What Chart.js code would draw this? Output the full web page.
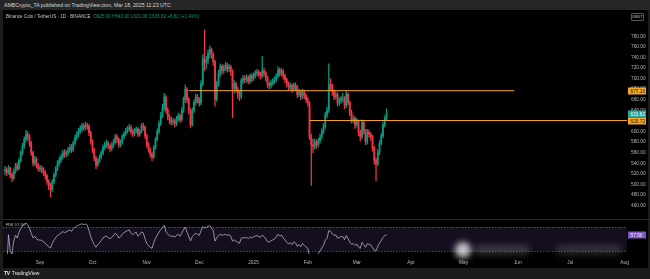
<!DOCTYPE html>
<html><head><meta charset="utf-8">
<script src="https://cdn.jsdelivr.net/npm/chart.js@4.4.1/dist/chart.umd.min.js"></script>
<style>
html,body{margin:0;padding:0;background:#1c1c1c;width:650px;height:279px;overflow:hidden;font-family:"Liberation Sans",Arial,sans-serif}
#hdr{position:absolute;left:0;top:0;width:650px;height:10px;background:#262626;color:#d6d6d6;font-size:5.2px;line-height:10px;padding-left:4px;box-sizing:border-box;white-space:nowrap}
#frame{position:absolute;left:3px;top:10px;width:645px;height:258px;background:#000}
#c1wrap{position:absolute;left:0;top:10px;width:650px;height:209px}
#c2wrap{position:absolute;left:0;top:219px;width:650px;height:49px}
#legend{position:absolute;left:6px;top:13.5px;font-size:4.6px;color:#c4c4c4;white-space:nowrap}
#legend .v{color:#089981}
#usdt{position:absolute;left:631px;top:13px;width:11px;height:6px;border:0.6px solid #555;border-radius:1px;color:#cfcfcf;font-size:3.8px;line-height:6px;text-align:center}
#footer{position:absolute;left:4px;top:269px;font-size:5px;line-height:9px;color:#e8e8e8;white-space:nowrap}
#footer b{font-weight:900;letter-spacing:-0.3px;margin-right:2px}
#rsilbl{position:absolute;left:6px;top:222px;font-size:4.4px;color:#c8c8c8;white-space:nowrap}
#rsilbl .v{color:#b9a3e0}
.blob{position:absolute;border-radius:50%;filter:blur(3px)}
</style></head>
<body>
<div id="hdr">AMBCrypto_TA published on TradingView.com, Mar 18, 2025 11:23 UTC</div>
<div id="frame"></div>
<div id="c1wrap"><canvas id="c1" width="650" height="209"></canvas></div>
<div id="c2wrap"><canvas id="c2" width="650" height="49"></canvas></div>
<div id="legend">Binance Coin / TetherUS · 1D · BINANCE&nbsp; <span class="v" id="ohlc"></span></div>
<div id="usdt">USDT</div>
<div id="rsilbl">RSI <span class="v" id="rsival"></span></div>
<div class="blob" style="left:455px;top:242px;width:16px;height:16px;background:rgba(255,255,255,0.75)"></div>
<div class="blob" style="left:474px;top:245px;width:56px;height:10px;border-radius:5px;background:rgba(200,200,200,0.22)"></div>
<div class="blob" style="left:556px;top:245px;width:66px;height:10px;border-radius:5px;background:rgba(200,200,200,0.18)"></div>
<div id="footer"><b>TV</b>TradingView</div>
<script>
// ---- data (daily candles, day 0 = 2024-08-12) ----
const firstOpen = 525;
const closes = [528,522,530,518,512,525,535,530,545,560,572,585,595,590,578,560,540,548,536,530,
530,528,522,516,505,498,490,505,518,530,540,546,552,560,557,560,565,570,566,578,
588,595,600,605,610,608,612,610,598,581,565,550,537,545,552,560,570,575,578,572,
568,575,580,590,585,575,580,590,596,601,605,608,600,596,602,605,595,600,610,608,
592,575,566,557,552,570,585,600,615,630,645,665,640,628,622,618,620,615,625,630,
622,640,660,680,660,640,613,640,655,665,660,654,690,737,730,735,748,755,745,732,
661,690,710,723,715,720,725,718,722,714,681,690,680,672,666,696,700,698,702,695,
705,700,706,710,712,708,705,715,710,701,689,687,692,695,698,705,716,710,714,705,
698,690,684,687,680,688,684,670,675,666,675,668,660,654,590,575,572,580,575,582,
590,600,610,631,640,689,687,675,666,670,654,658,662,663,649,670,655,636,622,625,
613,619,599,590,617,601,581,599,595,590,569,546,539,561,578,592,613,625,633.82];
const highs = [534,532,536,533,522,529,540,541,549,564,578,590,602,600,594,582,563,553,551,540,
536,535,532,526,519,509,502,509,522,534,545,551,557,565,566,564,570,575,576,582,
593,600,606,611,616,615,618,616,613,601,585,568,553,549,556,564,575,580,584,581,
576,579,585,595,594,588,584,594,600,606,610,614,611,604,606,609,607,604,615,616,
611,595,579,569,561,574,589,605,620,636,652,672,668,645,632,627,625,624,629,635,
633,645,665,688,683,664,643,645,660,671,670,664,696,745,792,742,754,762,758,749,
735,695,716,728,726,726,731,729,727,725,717,696,693,684,676,700,706,705,707,705,
709,709,711,715,718,716,712,742,720,713,704,694,697,700,703,709,722,720,719,717,
708,701,694,692,690,692,692,687,680,678,680,678,671,664,656,595,585,586,584,587,
595,605,615,636,646,728,700,690,679,676,673,664,667,672,666,676,673,658,640,630,
628,625,622,602,622,620,604,604,603,598,593,572,550,566,583,597,618,630,643];
const lows = [518,516,519,513,505,509,521,526,528,542,556,568,580,584,572,555,535,536,531,525,
524,522,517,510,500,490,476,486,501,514,526,535,541,548,551,552,555,561,560,562,
574,584,590,596,600,602,603,604,592,576,560,545,530,533,541,548,556,565,570,567,
562,564,570,576,579,570,571,576,586,592,597,600,595,590,592,598,590,591,597,602,
587,570,561,551,545,549,566,582,596,611,626,640,634,622,615,612,613,609,611,620,
617,619,636,655,654,633,607,610,636,650,654,648,650,686,715,718,728,740,738,725,
648,657,686,704,708,710,715,712,713,706,626,672,674,662,658,662,690,692,693,690,
691,694,696,701,705,703,699,701,704,695,683,680,682,687,690,694,701,704,705,699,
692,684,678,679,674,676,678,664,666,660,662,662,655,648,585,498,560,566,568,571,
578,586,596,606,626,636,678,668,660,661,648,649,653,656,643,645,650,630,616,616,
606,608,592,582,586,595,575,576,589,583,563,538,507,535,556,574,588,608,621];
const dayIndex = closes.map((_, i) => i);
const levelPrices = [677.10, 620.72];
const levelStartDay = [105, 174];
const levelEndDay = [291, 355.4];
const tickDays = [20, 50, 81, 111, 142, 173, 201, 232, 262, 293, 323, 354];
const tickLabels = ['Sep', 'Oct', 'Nov', 'Dec', '2025', 'Feb', 'Mar', 'Apr', 'May', 'Jun', 'Jul', 'Aug'];
const priceTicks = [460, 480, 500, 520, 540, 560, 580, 600, 620, 640, 660, 680, 700, 720, 740, 760, 780];
const rsiPeriod = 14;

// ---- derived ----
const opens = closes.map((c, i) => i === 0 ? firstOpen : closes[i - 1]);
const rsi = [];
{ let ag = 0, al = 0;
  for (let i = 0; i < closes.length; i++) {
    if (i === 0) { rsi.push(null); continue; }
    const ch = closes[i] - closes[i - 1];
    const g = Math.max(ch, 0), l = Math.max(-ch, 0);
    const n = Math.min(i, rsiPeriod);
    ag = (ag * (n - 1) + g) / n; al = (al * (n - 1) + l) / n;
    rsi.push(al === 0 ? 100 : 100 - 100 / (1 + ag / al));
  }
}
const last = closes.length - 1;
const chg = closes[last] - opens[last];
document.getElementById('ohlc').textContent =
  'O' + opens[last].toFixed(2) + ' H' + highs[last].toFixed(2) + ' L' + lows[last].toFixed(2) +
  ' C' + closes[last].toFixed(2) + ' ' + (chg >= 0 ? '+' : '') + chg.toFixed(2) +
  ' (' + (chg >= 0 ? '+' : '') + (chg / opens[last] * 100).toFixed(2) + '%)';
document.getElementById('rsival').textContent = rsi[last].toFixed(2);

const UP = '#089981', DOWN = '#f23645', ORANGE = '#f5a623';
const XMIN = -1.14, XMAX = 355.4;
const FONT = '"Liberation Sans", Arial, sans-serif';
Chart.defaults.font.family = FONT;
Chart.defaults.animation = false;

const colorFor = ctx => (closes[ctx.dataIndex] >= opens[ctx.dataIndex] ? UP : DOWN);

function tag(ctx, x, y, w, text, bg, fg) {
  ctx.save();
  ctx.fillStyle = bg;
  ctx.fillRect(x, Math.round(y) - 3.5, w, 7);
  ctx.fillStyle = fg;
  ctx.font = '4.8px ' + FONT;
  ctx.textBaseline = 'middle';
  ctx.textAlign = 'left';
  ctx.fillText(text, x + 2.5, Math.round(y) + 0.2);
  ctx.restore();
}

const tagsPlugin = {
  id: 'tags',
  afterDraw(chart) {
    const y = chart.scales.y, ctx = chart.ctx, x0 = chart.chartArea.right + 1;
    tag(ctx, x0, y.getPixelForValue(levelPrices[0]), 18, levelPrices[0].toFixed(2), ORANGE, '#1a1a1a');
    tag(ctx, x0, y.getPixelForValue(closes[last]), 18, closes[last].toFixed(2), '#26a69a', '#f0f0f0');
    tag(ctx, x0, y.getPixelForValue(levelPrices[1]), 18, levelPrices[1].toFixed(2), ORANGE, '#1a1a1a');
  }
};

new Chart(document.getElementById('c1'), {
  type: 'bar',
  data: {
    datasets: [
      { type: 'line', data: [{x: levelStartDay[0], y: levelPrices[0]}, {x: levelEndDay[0], y: levelPrices[0]}],
        borderColor: ORANGE, borderWidth: 1, pointRadius: 0, order: 0 },
      { type: 'line', data: [{x: levelStartDay[1], y: levelPrices[1]}, {x: levelEndDay[1], y: levelPrices[1]}],
        borderColor: ORANGE, borderWidth: 1, pointRadius: 0, order: 0 },
      { data: dayIndex.map(i => ({x: i, y: [opens[i], closes[i]]})), backgroundColor: colorFor,
        barThickness: 1.15, minBarLength: 0.8, grouped: false, order: 1 },
      { data: dayIndex.map(i => ({x: i, y: [lows[i], highs[i]]})), backgroundColor: colorFor,
        barThickness: 0.6, grouped: false, order: 2 }
    ]
  },
  options: {
    responsive: false, maintainAspectRatio: false,
    layout: { padding: { left: 3, right: 0, top: 0, bottom: 0 } },
    plugins: { legend: { display: false }, tooltip: { enabled: false } },
    scales: {
      x: { type: 'linear', min: XMIN, max: XMAX, offset: false, display: false },
      y: { position: 'right', min: 447.7, max: 816.5,
        afterFit(s) { s.width = 23; },
        afterBuildTicks(s) { s.ticks = priceTicks.map(v => ({ value: v })); },
        grid: { display: false, drawTicks: false }, border: { display: false },
        ticks: { color: '#b2b5be', font: { size: 4.8 }, padding: 4, callback: v => Number(v).toFixed(2) } }
    }
  },
  plugins: [tagsPlugin]
});

const rsiPane = {
  id: 'rsiPane',
  beforeDatasetsDraw(chart) {
    const { ctx, chartArea: a, scales: { y } } = chart;
    const y70 = y.getPixelForValue(70), y30 = y.getPixelForValue(30);
    ctx.save();
    ctx.fillStyle = 'rgba(126,87,194,0.16)';
    ctx.fillRect(a.left, y70, a.right - a.left, y30 - y70);
    ctx.strokeStyle = '#7a7d86';
    ctx.lineWidth = 0.6;
    ctx.setLineDash([1.5, 1.5]);
    [y70, y30].forEach(p => { ctx.beginPath(); ctx.moveTo(a.left, Math.round(p) + 0.5); ctx.lineTo(a.right, Math.round(p) + 0.5); ctx.stroke(); });
    ctx.setLineDash([]);
    ctx.strokeStyle = '#2a2a2a';
    ctx.lineWidth = 1;
    ctx.beginPath(); ctx.moveTo(a.left, 0.5); ctx.lineTo(chart.width, 0.5); ctx.stroke();
    ctx.restore();
  },
  afterDraw(chart) {
    const y = chart.scales.y, x0 = chart.chartArea.right + 1;
    tag(chart.ctx, x0, y.getPixelForValue(rsi[last]), 18, rsi[last].toFixed(2), '#7e57c2', '#f0f0f0');
  }
};

new Chart(document.getElementById('c2'), {
  type: 'line',
  data: { datasets: [{ data: dayIndex.map(i => ({x: i, y: rsi[i]})), borderColor: '#c9c4d9', borderWidth: 0.7, pointRadius: 0, tension: 0 }] },
  options: {
    responsive: false, maintainAspectRatio: false,
    layout: { padding: { left: 3, right: 0, top: 1, bottom: 0 } },
    plugins: { legend: { display: false }, tooltip: { enabled: false } },
    scales: {
      x: { type: 'linear', min: XMIN, max: XMAX, offset: false,
        afterFit(s) { s.height = 14; },
        afterBuildTicks(s) { s.ticks = tickDays.map(v => ({ value: v })); },
        grid: { display: false, drawTicks: false }, border: { display: false },
        ticks: { color: '#b2b5be', font: { size: 4.8 }, padding: 6, maxRotation: 0, autoSkip: false,
          callback: (v) => tickLabels[tickDays.indexOf(v)] } },
      y: { position: 'right', min: 25, max: 81.7,
        afterFit(s) { s.width = 23; },
        afterBuildTicks(s) { s.ticks = []; },
        grid: { display: false }, border: { display: false }, ticks: { display: false } }
    }
  },
  plugins: [rsiPane]
});
</script>
</body></html>
